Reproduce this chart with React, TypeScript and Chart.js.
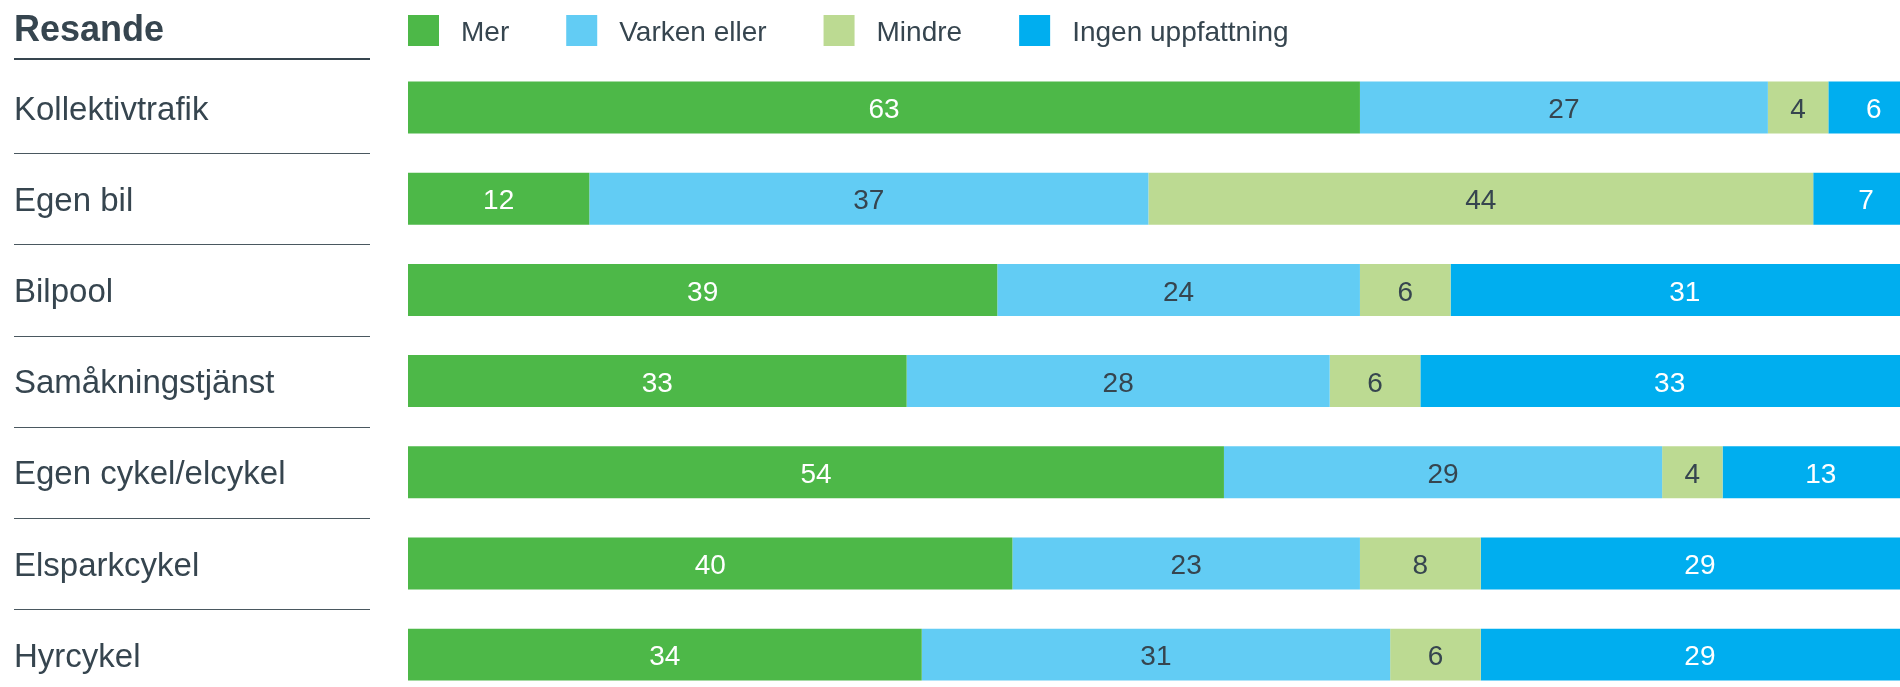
import React, { useEffect, useRef } from "react";
import { Chart, registerables } from "chart.js";

Chart.register(...registerables);

const title = "Resande";
const categories = [
  "Kollektivtrafik",
  "Egen bil",
  "Bilpool",
  "Samåkningstjänst",
  "Egen cykel/elcykel",
  "Elsparkcykel",
  "Hyrcykel",
];
const seriesNames = ["Mer", "Varken eller", "Mindre", "Ingen uppfattning"];
const merValues = [63, 12, 39, 33, 54, 40, 34];
const varkenValues = [27, 37, 24, 28, 29, 23, 31];
const mindreValues = [4, 44, 6, 6, 4, 8, 6];
const ingenValues = [6, 7, 31, 33, 13, 29, 29];

const seriesColors = ["#4DB848", "#62CCF4", "#BCDA92", "#00AEEF"];
const labelColors = ["#FFFFFF", "#36454F", "#36454F", "#FFFFFF"];
const TEXT = "#36454F";
const FONT = '"Liberation Sans", Arial, Helvetica, sans-serif';

const headerPlugin = {
  id: "headerLegend",
  afterDraw(chart: any) {
    const { ctx, chartArea, scales } = chart;
    const y = scales.y;
    ctx.save();
    // title
    ctx.fillStyle = TEXT;
    ctx.font = `bold 36px ${FONT}`;
    ctx.textAlign = "left";
    ctx.textBaseline = "alphabetic";
    ctx.fillText(title, 14, 41);
    // header underline
    const labelRight = y.right - 38;
    ctx.fillStyle = TEXT;
    ctx.fillRect(14, chartArea.top - 4, labelRight - 14, 2);
    // separators between categories
    ctx.strokeStyle = "#4A5860";
    ctx.lineWidth = 1;
    for (let i = 0; i < categories.length - 1; i++) {
      const yy = Math.round((y.getPixelForValue(i) + y.getPixelForValue(i + 1)) / 2) + 0.5;
      ctx.beginPath();
      ctx.moveTo(14, yy);
      ctx.lineTo(labelRight, yy);
      ctx.stroke();
    }
    // legend
    ctx.font = `28px ${FONT}`;
    let x = chartArea.left;
    chart.data.datasets.forEach((ds: any) => {
      ctx.fillStyle = ds.backgroundColor;
      ctx.fillRect(x, 15, 31, 31);
      ctx.fillStyle = TEXT;
      ctx.fillText(ds.label, x + 53, 41);
      x += 53 + ctx.measureText(ds.label).width + 57;
    });
    ctx.restore();
  },
};

const valueLabelPlugin = {
  id: "valueLabels",
  afterDatasetsDraw(chart: any) {
    const { ctx } = chart;
    ctx.save();
    ctx.font = `28px ${FONT}`;
    ctx.textAlign = "center";
    ctx.textBaseline = "middle";
    chart.data.datasets.forEach((ds: any, di: number) => {
      const meta = chart.getDatasetMeta(di);
      meta.data.forEach((bar: any, i: number) => {
        const v = ds.data[i];
        if (!v) return;
        const p = bar.getCenterPoint();
        ctx.fillStyle = labelColors[di];
        ctx.fillText(String(v), p.x, p.y + 3);
      });
    });
    ctx.restore();
  },
};

export default function App() {
  const ref = useRef<HTMLCanvasElement | null>(null);
  useEffect(() => {
    if (!ref.current) return;
    const seriesData = [merValues, varkenValues, mindreValues, ingenValues];
    const chart = new Chart(ref.current, {
      type: "bar",
      data: {
        labels: categories,
        datasets: seriesNames.map((name, i) => ({
          label: name,
          data: seriesData[i],
          backgroundColor: seriesColors[i],
          borderWidth: 0,
          barPercentage: 0.57,
          categoryPercentage: 1,
        })),
      },
      options: {
        indexAxis: "y",
        responsive: false,
        animation: false,
        devicePixelRatio: 1,
        layout: { padding: { left: 14, top: 62, right: 6, bottom: 7 } },
        plugins: {
          legend: { display: false },
          tooltip: { enabled: false },
          title: { display: false },
        },
        scales: {
          x: {
            stacked: true,
            min: 0,
            max: 100,
            display: false,
          },
          y: {
            stacked: true,
            grid: { display: false },
            border: { display: false },
            afterFit: (scale: any) => {
              scale.width = 394;
            },
            ticks: {
              crossAlign: "far",
              padding: 0,
              labelOffset: 3,
              color: TEXT,
              font: { family: FONT, size: 33 },
            },
          },
        },
      },
      plugins: [headerPlugin, valueLabelPlugin],
    } as any);
    return () => chart.destroy();
  }, []);
  return (
    <div
      style={{
        position: "absolute",
        left: 0,
        top: 0,
        width: 1900,
        height: 687,
        overflow: "hidden",
        background: "#FFFFFF",
      }}
    >
      <canvas ref={ref} width={1925} height={720} style={{ display: "block" }} />
    </div>
  );
}
